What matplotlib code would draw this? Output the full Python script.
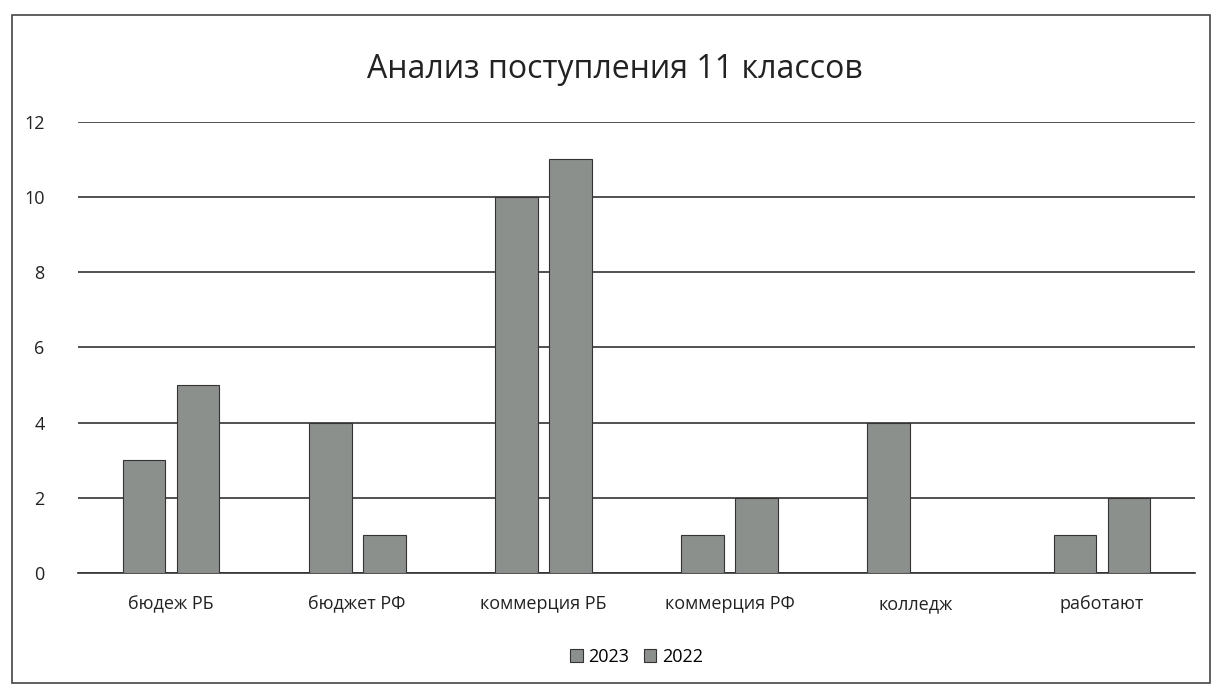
import matplotlib.pyplot as plt
import matplotlib.patches as mpatches
import numpy as np

categories = ["бюдеж РБ", "бюджет РФ", "коммерция РБ", "коммерция РФ", "колледж", "работают"]
values_2023 = [3, 4, 10, 1, 4, 1]
values_2022 = [5, 1, 11, 2, 0, 2]
series_labels = ["2023", "2022"]

plt.rcParams['font.family'] = ['Open Sans', 'DejaVu Sans']

fig = plt.figure(figsize=(12.17, 6.92), dpi=100)
ax = fig.add_axes([0.064, 0.172, 0.918, 0.652])

# chart frame
fig.patches.append(mpatches.Rectangle((0.010, 0.013), 0.984, 0.966, transform=fig.transFigure,
                                      fill=False, edgecolor='#444444', linewidth=1.2))

bar_color = '#8c908d'
x = np.arange(len(categories))
w = 0.23
ax.bar(x - 0.145, values_2023, width=w, color=bar_color, edgecolor='#333333', linewidth=0.8,
       label=series_labels[0], zorder=3)
ax.bar(x + 0.145, values_2022, width=w, color=bar_color, edgecolor='#333333', linewidth=0.8,
       label=series_labels[1], zorder=3)

ax.set_xlim(-0.5, len(categories) - 0.5)
ax.set_ylim(0, 12)
ax.set_yticks(range(0, 13, 2))
ax.set_xticks(x)
ax.set_xticklabels(categories)
ax.grid(axis='y', color='#333333', linewidth=1.2, zorder=0)
for s in ['top', 'right', 'left']:
    ax.spines[s].set_visible(False)
ax.spines['bottom'].set_color('#333333')
ax.spines['bottom'].set_linewidth(1.2)
ax.tick_params(axis='both', length=0, labelsize=13, colors='#222222')
ax.tick_params(axis='y', pad=24)
ax.tick_params(axis='x', pad=16)

fig.text(0.505, 0.90, "Анализ поступления 11 классов", ha='center', va='center',
         fontsize=23, color='#222222')

ax.legend(loc='upper center', bbox_to_anchor=(0.5, -0.13), ncol=2, frameon=False,
          fontsize=13, handlelength=0.7, handleheight=0.7, handletextpad=0.3, columnspacing=0.8)

plt.savefig("out.png", dpi=100)
